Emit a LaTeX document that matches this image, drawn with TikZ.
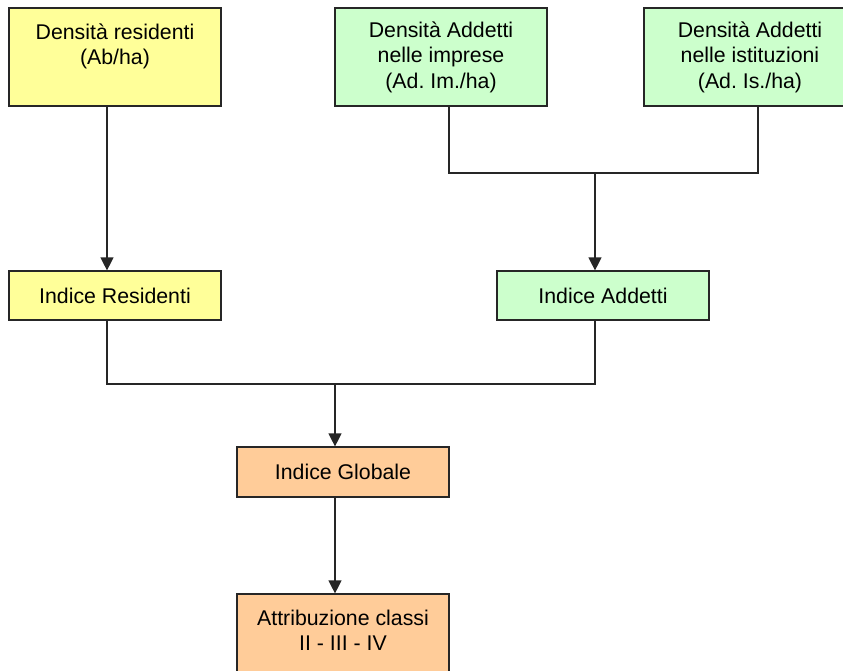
\documentclass[tikz,border=0pt]{standalone}
\usepackage{fontspec}
\setmainfont{Liberation Sans}
\usepackage{tikz}
\usetikzlibrary{arrows.meta}
\frenchspacing

\definecolor{giallo}{HTML}{FFFF99}
\definecolor{verde}{HTML}{CCFFCC}
\definecolor{arancio}{HTML}{FFCC99}

\tikzset{
  box/.style={draw=black!85, line width=1.2pt, minimum width=212pt, inner sep=0pt,
              align=center, font=\fontsize{21.3}{25.4}\selectfont},
  tall/.style={box, minimum height=98pt},
  flat/.style={box, minimum height=49pt},
  conn/.style={draw=black!85, line width=1.2pt},
  arr/.style={conn, -{Triangle[width=13pt,length=13pt]}}
}

\begin{document}
\begin{tikzpicture}[x=1pt, y=-1pt]

\useasboundingbox (0,0) rectangle (843,670);
\clip (0,0) rectangle (843,670);

\node[tall, fill=giallo] (dres)  at (115,57) {Densità residenti\\(Ab/ha)\\~};
\node[tall, fill=verde]  (dimp)  at (441,57) {Densità Addetti\\nelle imprese\\(Ad. Im./ha)};
\node[tall, fill=verde]  (dist)  at (750,57) {Densità Addetti\\nelle istituzioni\\(Ad. Is./ha)};

\node[flat, fill=giallo]  (ires)  at (115,295.5) {Indice Residenti};
\node[flat, fill=verde]   (iadd)  at (603,295.5) {Indice Addetti};
\node[flat, fill=arancio, minimum height=50pt] (iglob) at (343,472) {Indice Globale};
\node[tall, fill=arancio] (attr)  at (343,643) {Attribuzione classi\\II - III - IV\\~};

% joins
\coordinate (j1) at (449,173);
\coordinate (j2) at (758,173);
\coordinate (j3) at (595,173);
\coordinate (k1) at (107,384);
\coordinate (k2) at (595,384);
\coordinate (k3) at (335,384);

\draw[conn] (dimp.south -| j1) -- (j1) -- (j2) -- (dist.south -| j2);
\draw[conn] (ires.south -| k1) -- (k1) -- (k2) -- (iadd.south -| k2);

\draw[arr] (dres.south -| k1) -- (ires.north -| k1);
\foreach \c/\n in {j3/iadd, k3/iglob}
    \draw[arr] (\c) -- (\n.north -| \c);
\draw[arr] (iglob.south -| k3) -- (attr.north -| k3);

\end{tikzpicture}
\end{document}
